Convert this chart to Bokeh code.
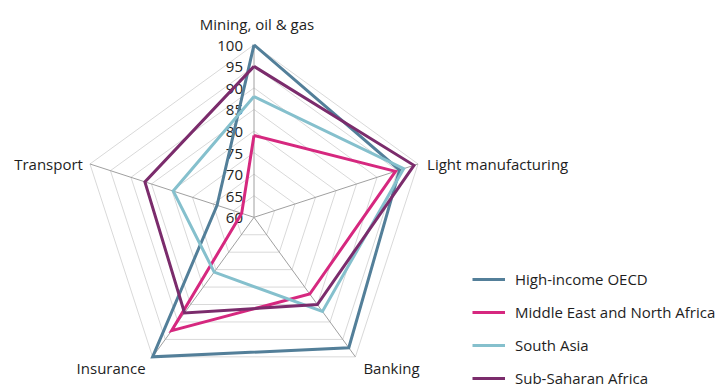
import numpy as np
from bokeh.plotting import figure
from bokeh.models import Range1d, ColumnDataSource, Legend, LegendItem
from bokeh.core.properties import value
from bokeh.embed import file_html
from bokeh.resources import INLINE

# ---- data ----
categories = ["Mining, oil & gas", "Light manufacturing", "Banking", "Insurance", "Transport"]
tick_values = [60, 65, 70, 75, 80, 85, 90, 95, 100]
series_names = ["High-income OECD", "Middle East and North Africa", "South Asia", "Sub-Saharan Africa"]
high_income_oecd = [100, 95.5, 97.4, 100, 69]
mena = [79, 94.5, 82, 92.5, 63]
south_asia = [88, 96.5, 87, 75.7, 79.7]
sub_saharan_africa = [95, 99, 85, 87.4, 86.6]
series_values = [high_income_oecd, mena, south_asia, sub_saharan_africa]

# ---- style ----
colors = ["#537f99", "#d6287f", "#85c0cd", "#7b2c6c"]
FONT = "Open Sans"
FS = "15px"
TXT = "#1e1e1e"
vmin, vmax = 60, 100

W, H = 720, 388
cx_px, cy_px, R_px = 253.5, 216.8, 172.5

p = figure(width=W, height=H, output_backend="svg", toolbar_location=None,
           min_border=0, outline_line_color=None,
           x_range=Range1d(-cx_px / R_px, (W - cx_px) / R_px),
           y_range=Range1d(-(H - cy_px) / R_px, cy_px / R_px))
p.axis.visible = False
p.grid.visible = False
p.background_fill_color = None
p.border_fill_color = "white"

n = len(categories)
angles = np.pi / 2 - 2 * np.pi * np.arange(n) / n


def radius(v):
    return (np.asarray(v, dtype=float) - vmin) / (vmax - vmin)


# rings
for t in tick_values[1:]:
    r = radius(t)
    xs = list(r * np.cos(angles)) + [r * np.cos(angles[0])]
    ys = list(r * np.sin(angles)) + [r * np.sin(angles[0])]
    p.line(xs, ys, line_color="#d9d9d9", line_width=1)

# spokes
p.segment(x0=[0] * n, y0=[0] * n, x1=list(np.cos(angles)), y1=list(np.sin(angles)),
          line_color="#a0a0a0", line_width=1)

# tick labels
p.text(x=[0] * len(tick_values), y=list(radius(tick_values)), text=[str(t) for t in tick_values],
       text_align="right", text_baseline="middle", x_offset=-11, y_offset=1,
       text_font=value(FONT), text_font_size=FS, text_color=TXT)

# series
renderers = []
for name, vals, col in zip(series_names, series_values, colors):
    r = radius(vals)
    xs = list(r * np.cos(angles)) + [r[0] * np.cos(angles[0])]
    ys = list(r * np.sin(angles)) + [r[0] * np.sin(angles[0])]
    rr = p.line(xs, ys, line_color=col, line_width=3, line_join="miter")
    renderers.append(rr)

# category labels
aligns = ["center", "left", "left", "right", "right"]
xoffs = [3, 9, 8, -7, -7]
yoffs = [-21, 0, 11, 11, 0]
for i, c in enumerate(categories):
    p.text(x=[np.cos(angles[i])], y=[np.sin(angles[i])], text=[c],
           text_align=aligns[i], text_baseline="middle",
           x_offset=xoffs[i], y_offset=yoffs[i],
           text_font=value(FONT), text_font_size=FS, text_color=TXT)

legend = Legend(items=[LegendItem(label=nm, renderers=[rr]) for nm, rr in zip(series_names, renderers)],
                location=(472, 0), orientation="vertical",
                glyph_width=33, glyph_height=20, label_height=20, label_standoff=10,
                spacing=13, padding=0, margin=0,
                border_line_color=None, background_fill_alpha=0,
                label_text_font=FONT, label_text_font_size=FS, label_text_color=TXT)
p.add_layout(legend, "center")

open("out.html", "w").write(file_html(p, INLINE))
